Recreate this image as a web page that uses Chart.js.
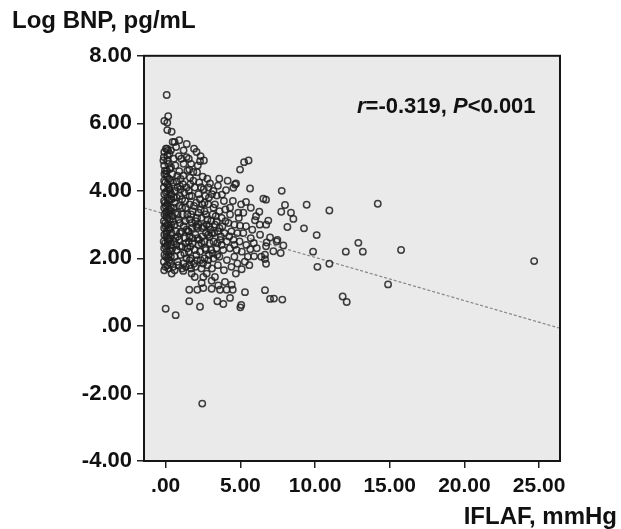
<!DOCTYPE html>
<html>
<head>
<meta charset="utf-8">
<title>Log BNP vs IFLAF</title>
<script src="https://cdn.jsdelivr.net/npm/chart.js@4.4.0/dist/chart.umd.min.js"></script>
<style>
  html, body { margin: 0; padding: 0; background: #fff; }
  canvas { display: block; }
</style>
</head>
<body>
<canvas id="bnpChart" width="621" height="529"></canvas>
<script>
// IFLAF (mmHg) per patient
const iflaf = [
    -0.1, -0.12, -0.08, -0.1, -0.13, -0.09, -0.1, -0.12, -0.08, -0.1,
    -0.11, -0.09, -0.12, -0.1, -0.08, -0.1, -0.12, -0.09, -0.09, 0,
    0.1, 0.12, 0.08, 0.1, 0.13, 0.09, 0.1, 0.12, 0.08, 0.1,
    0.11, 0.09, 0.12, 0.1, 0.08, 0.1, 0.12, 0.09, 0.11, 0.11,
    0.25, 0.27, 0.23, 0.25, 0.28, 0.24, 0.26, 0.25, 0.23, 0.27,
    0.25, 0.17, 0.07, 0.0, 0.0, 0.0, 0.02, -0.05, 0.05, 0.05,
    0.4, 0.47, 0.91, 1.41, 0.88, 0.4, 1.18, 0.67, 0.5, 0.8,
    1.2, 0.6, 1.0, 1.4, 0.45, 0.75, 1.1, 1.45, 0.55, 0.9,
    1.3, 0.4, 0.7, 1.05, 1.4, 0.6, 0.95, 1.3, 0.45, 0.8,
    1.15, 0.55, 0.9, 1.35, 0.4, 0.75, 1.1, 0.6, 1.0, 1.4,
    0.5, 0.74, 0.96, 1.18, 0.91, 0.45, 0.65, 1.2, 0.55, 0.35,
    0.35, 0.62, 1.05, 0.78, 1.35, 0.35, 1.0, 0.8, 1.25, 0.3,
    1.9, 2.07, 2.34, 2.56, 2.3, 1.58, 1.85, 1.63, 2.48, 2.79,
    2.97, 2.36, 1.74, 2.52, 2.41, 1.58, 2.12, 2.52, 1.58, 2.3,
    2.45, 1.6, 2.0, 2.4, 2.8, 1.7, 2.1, 2.6, 1.55, 1.95,
    2.3, 2.7, 1.8, 2.2, 2.6, 2.95, 1.6, 2.0, 2.45, 2.85,
    1.75, 2.15, 2.55, 2.9, 1.6, 2.0, 2.4, 2.8, 1.8, 2.2,
    2.6, 1.6, 2.05, 2.45, 2.85, 1.75, 2.2, 2.65, 1.95, 1.55,
    2.1, 2.7, 1.9, 2.9, 2.25, 1.65, 2.75, 1.95, 2.2, 1.7,
    3.59, 4.98, 4.64, 4.04, 3.77, 4.31, 3.42, 4.53, 4.71, 4.31,
    4.86, 3.42, 3.75, 4.98, 3.08, 3.52, 3.97, 4.42, 3.08, 3.64,
    4.08, 4.49, 3.46, 3.86, 4.31, 5.0, 3.1, 3.5, 3.9, 4.4,
    4.8, 3.2, 3.6, 4.1, 4.6, 3.05, 3.4, 3.85, 4.3, 4.75,
    3.2, 3.65, 4.1, 4.55, 4.95, 3.1, 3.5, 3.95, 4.4, 4.8,
    3.3, 3.8, 4.2, 4.6, 3.15, 3.6, 4.0, 3.3, 3.9, 4.5,
    3.2, 3.5, 4.9, 4.7, 3.3, 5.06, 3.7, 4.25, 3.45, 4.6,
    5.25, 5.55, 5.65, 7.77, 6.54, 6.72, 7.99, 9.44, 10.96, 14.2,
    6.27, 6.05, 5.98, 7.74, 8.39, 8.55, 6.87, 6.73, 8.15, 9.26,
    10.11, 6.32, 7.48, 5.7, 5.9, 5.66, 6.76, 6.72, 7.88, 7.7,
    7.21, 6.65, 6.65, 6.72, 5.92, 9.87, 12.06, 12.9, 13.2, 15.76,
    24.67, 10.16, 10.96, 14.89, 6.65, 6.99, 7.25, 7.81, 11.85, 12.12,
    5.38, 4.15, 6.99, 7.43, 5.31, 5.09, 5.38, 5.2, 5.1, 5.4,
    5.2, 5.5, 5.8, 6.1, 5.3, 5.05, 5.7, 6.3, 5.6, 6.4,
    -0.02, 0.03, -0.03, 0.04, -0.02, 0.03, -0.04, 0.02, -0.03, 0.04,
    0.18, 0.2, 0.16, 0.19, 0.21, 0.17, 0.2, 0.18, 0.16, -0.15,
    0.32, 0.36, 0.33, 0.37, 0.34, 0.38, 0.33, 0.36, 0.3, 0.38,
    0.6, 0.85, 1.1, 1.35, 1.6, 0.7, 0.95, 1.25, 1.55, 1.8,
    0.65, 0.95, 1.2, 1.5, 1.75, 0.5, 0.85, 1.1, 1.45, 1.9,
    0.65, 0.95, 1.3, 1.6, 1.85, 0.55, 0.8, 1.15, 1.45, 1.7,
    2.05, 2.35, 2.65, 2.95, 3.25, 2.15, 2.45, 2.75, 3.05, 3.35,
    2.1, 2.35, 2.6, 2.9, 3.2, 2.3, 2.55, 2.85, 3.1, 2.25,
    2.5, 2.85, 3.15, 3.45, 3.75, 2.4, 2.7, 3.0, 3.6, 4.0,
    1.55, 1.7, 2.05, 1.65, 1.4, 1.2, 0.7, 1.55, 0.6, 2.15
];

// Log BNP (pg/mL), same order as iflaf
const logBnp = [
    1.65, 1.9, 2.1, 2.3, 2.5, 2.7, 2.9, 3.1, 3.3, 3.5,
    3.7, 3.9, 4.1, 4.3, 4.5, 4.75, 5.0, 5.15, 6.07, 0.51,
    1.8, 2.0, 2.2, 2.4, 2.6, 2.8, 3.0, 3.2, 3.4, 3.6,
    3.8, 4.0, 4.2, 4.4, 4.6, 4.9, 5.05, 5.25, 5.8, 6.02,
    1.95, 2.25, 2.55, 2.85, 3.15, 3.45, 3.75, 4.05, 4.35, 4.65,
    5.1, 6.21, 6.84, 2.35, 2.95, 3.55, 5.25, 4.6, 2.65, 3.25,
    5.75, 5.45, 5.5, 5.39, 5.03, 1.55, 1.63, 0.32, 1.75, 1.9,
    1.85, 2.05, 2.1, 2.0, 2.3, 2.25, 2.35, 2.3, 2.5, 2.55,
    2.6, 2.75, 2.8, 2.8, 2.85, 3.0, 3.05, 3.1, 3.25, 3.3,
    3.3, 3.5, 3.55, 3.5, 3.75, 3.8, 3.75, 4.0, 4.05, 4.1,
    4.25, 4.28, 4.14, 4.45, 4.58, 4.5, 4.75, 4.8, 4.95, 5.2,
    2.05, 3.65, 4.95, 4.45, 2.45, 3.5, 4.35, 2.65, 3.95, 4.0,
    5.25, 5.15, 5.03, 4.9, 4.88, 4.63, 4.56, 4.39, 4.42, 4.36,
    4.22, 4.11, 1.55, 1.45, 1.27, 1.07, 1.07, 1.12, 0.73, 0.57,
    -2.3, 1.8, 1.75, 1.7, 1.8, 2.0, 1.95, 2.0, 2.2, 2.25,
    2.2, 2.25, 2.45, 2.4, 2.5, 2.45, 2.65, 2.7, 2.65, 2.7,
    2.9, 2.9, 2.95, 2.95, 3.15, 3.1, 3.2, 3.15, 3.4, 3.35,
    3.4, 3.6, 3.65, 3.6, 3.6, 3.85, 3.9, 3.85, 4.1, 4.0,
    4.55, 3.3, 1.85, 2.1, 2.55, 2.35, 1.55, 1.45, 3.0, 3.3,
    4.36, 4.63, 4.19, 4.02, 3.89, 3.5, 3.86, 4.09, 4.22, 3.3,
    3.35, 3.1, 3.2, 2.97, 1.34, 1.2, 1.3, 1.22, 1.1, 1.07,
    1.07, 1.07, 0.73, 0.65, 0.83, 0.55, 1.7, 1.8, 1.65, 1.75,
    1.85, 2.0, 2.05, 1.95, 2.05, 2.25, 2.3, 2.25, 2.3, 2.25,
    2.5, 2.55, 2.5, 2.55, 2.5, 2.75, 2.8, 2.75, 2.8, 2.75,
    3.0, 2.95, 3.05, 3.0, 3.3, 3.4, 3.45, 3.6, 3.7, 3.7,
    4.0, 4.15, 3.2, 1.55, 1.45, 0.62, 2.65, 2.65, 2.1, 2.4,
    4.85, 4.9, 4.07, 4.0, 3.77, 3.74, 3.58, 3.59, 3.42, 3.62,
    3.38, 3.25, 3.13, 3.38, 3.35, 3.17, 3.12, 3.0, 2.93, 2.89,
    2.69, 2.7, 2.55, 2.6, 2.45, 2.27, 2.47, 2.36, 2.38, 2.16,
    2.21, 2.11, 1.98, 1.84, 2.06, 2.2, 2.2, 2.46, 2.2, 2.25,
    1.92, 1.75, 1.84, 1.23, 1.06, 0.8, 0.81, 0.78, 0.87, 0.71,
    3.67, 4.3, 2.62, 2.5, 1.0, 1.68, 2.95, 3.35, 2.2, 2.4,
    2.75, 2.05, 2.85, 2.3, 1.9, 3.6, 3.5, 3.0, 1.8, 2.05,
    1.75, 2.05, 2.45, 2.75, 3.05, 3.35, 3.65, 3.95, 4.25, 4.5,
    1.7, 2.1, 2.5, 2.9, 3.3, 3.7, 4.1, 4.8, 5.2, 4.9,
    1.85, 2.2, 2.6, 3.0, 3.4, 3.9, 4.3, 4.7, 2.9, 2.4,
    1.65, 1.8, 1.7, 1.75, 1.95, 2.4, 2.35, 2.15, 2.5, 2.6,
    2.6, 2.75, 2.95, 2.8, 3.05, 3.1, 3.15, 3.5, 3.3, 3.55,
    3.35, 3.85, 3.7, 3.85, 4.3, 3.8, 4.1, 4.2, 4.6, 4.8,
    2.1, 1.95, 2.3, 2.65, 2.75, 2.6, 2.9, 3.0, 3.1, 3.25,
    3.2, 3.45, 3.65, 3.8, 3.5, 3.75, 4.05, 4.1, 3.9, 4.25,
    1.85, 1.95, 2.15, 2.45, 2.4, 2.45, 2.75, 2.85, 2.9, 3.1,
    2.8, 1.7, 2.95, 4.2, 5.0, 5.2, 5.3, 4.95, 5.45, 4.75
];

const xTicks = [0, 5, 10, 15, 20, 25];
const xTickLabels = ['.00', '5.00', '10.00', '15.00', '20.00', '25.00'];
const yTicks = [-4, -2, 0, 2, 4, 6, 8];
const yTickLabels = ['-4.00', '-2.00', '.00', '2.00', '4.00', '6.00', '8.00'];
const xRange = [-1.45, 26.4];
const yRange = [-4, 8];

// linear fit shown as dashed line
const fitIntercept = 3.31;
const fitSlope = -0.128;

const fontFamily = '"Liberation Sans", Arial, Helvetica, sans-serif';
const inkColor = '#111';

// plot background, frame and the free-standing texts
const plotFrame = {
    id: 'plotFrame',
    beforeDraw(chart) {
        const { ctx, chartArea: a } = chart;
        ctx.save();
        ctx.fillStyle = '#eaeaea';
        ctx.fillRect(a.left, a.top, a.width, a.height);
        ctx.restore();
    },
    afterDraw(chart) {
        const { ctx, chartArea: a } = chart;
        ctx.save();
        ctx.strokeStyle = '#151515';
        ctx.lineWidth = 2;
        ctx.strokeRect(a.left, a.top, a.width, a.height);

        // r=-0.319, P<0.001
        const parts = [['r', true], ['=-0.319, ', false], ['P', true], ['<0.001', false]];
        let x = 357;
        ctx.fillStyle = inkColor;
        ctx.textBaseline = 'alphabetic';
        ctx.textAlign = 'left';
        parts.forEach(([txt, italic]) => {
            ctx.font = `${italic ? 'italic ' : ''}bold 22px ${fontFamily}`;
            ctx.fillText(txt, x, 113);
            x += ctx.measureText(txt).width;
        });

        // x axis title, right aligned to the page edge
        ctx.font = `bold 24px ${fontFamily}`;
        ctx.textAlign = 'right';
        ctx.fillText('IFLAF, mmHg', 617, 524);
        ctx.restore();
    }
};

function initializeScatterChart() {
    const ctx = document.getElementById('bnpChart');
    if (!ctx) return;

    const tickFont = { family: fontFamily, size: 22, weight: 'bold' };

    new Chart(ctx, {
        type: 'scatter',
        data: {
            datasets: [
                {
                    label: 'Patients',
                    data: iflaf.map((x, i) => ({ x: x, y: logBnp[i] })),
                    pointStyle: 'circle',
                    pointRadius: 3.2,
                    pointBorderWidth: 1.5,
                    borderColor: 'rgba(30, 30, 30, 0.85)',
                    backgroundColor: 'rgba(0, 0, 0, 0)',
                    order: 1
                },
                {
                    type: 'line',
                    label: 'Fit',
                    data: xRange.map(x => ({ x: x, y: fitIntercept + fitSlope * x })),
                    borderColor: '#858585',
                    borderWidth: 1.2,
                    borderDash: [3, 2],
                    pointRadius: 0,
                    fill: false,
                    order: 2
                }
            ]
        },
        options: {
            responsive: false,
            devicePixelRatio: 1,
            animation: false,
            layout: {
                padding: { left: 12, right: 61, top: 0, bottom: 0 }
            },
            plugins: {
                legend: { display: false },
                tooltip: { enabled: false },
                title: {
                    display: true,
                    text: 'Log BNP, pg/mL',
                    align: 'start',
                    color: inkColor,
                    font: { family: fontFamily, size: 24, weight: 'bold' },
                    padding: { top: 7, bottom: 20 }
                }
            },
            scales: {
                x: {
                    type: 'linear',
                    min: xRange[0],
                    max: xRange[1],
                    afterBuildTicks: scale => {
                        scale.ticks = xTicks.map(v => ({ value: v }));
                    },
                    afterFit: scale => {
                        scale.height = 68;
                    },
                    ticks: {
                        callback: (value, index) => xTickLabels[index],
                        color: inkColor,
                        font: { family: fontFamily, size: 21, weight: 'bold' },
                        padding: 6,
                        maxRotation: 0,
                        autoSkip: false
                    },
                    grid: {
                        drawOnChartArea: false,
                        drawTicks: true,
                        tickLength: 7,
                        lineWidth: 1.5,
                        color: '#222'
                    },
                    border: { display: false }
                },
                y: {
                    type: 'linear',
                    min: yRange[0],
                    max: yRange[1],
                    afterBuildTicks: scale => {
                        scale.ticks = yTicks.map(v => ({ value: v }));
                    },
                    afterFit: scale => {
                        scale.width = 132;
                    },
                    ticks: {
                        callback: (value, index) => yTickLabels[index],
                        color: inkColor,
                        font: tickFont,
                        padding: 5,
                        autoSkip: false
                    },
                    grid: {
                        drawOnChartArea: false,
                        drawTicks: true,
                        tickLength: 7,
                        lineWidth: 1.5,
                        color: '#222'
                    },
                    border: { display: false }
                }
            }
        },
        plugins: [plotFrame]
    });
}

document.addEventListener('DOMContentLoaded', function() {
    initializeScatterChart();
});
</script>
</body>
</html>
